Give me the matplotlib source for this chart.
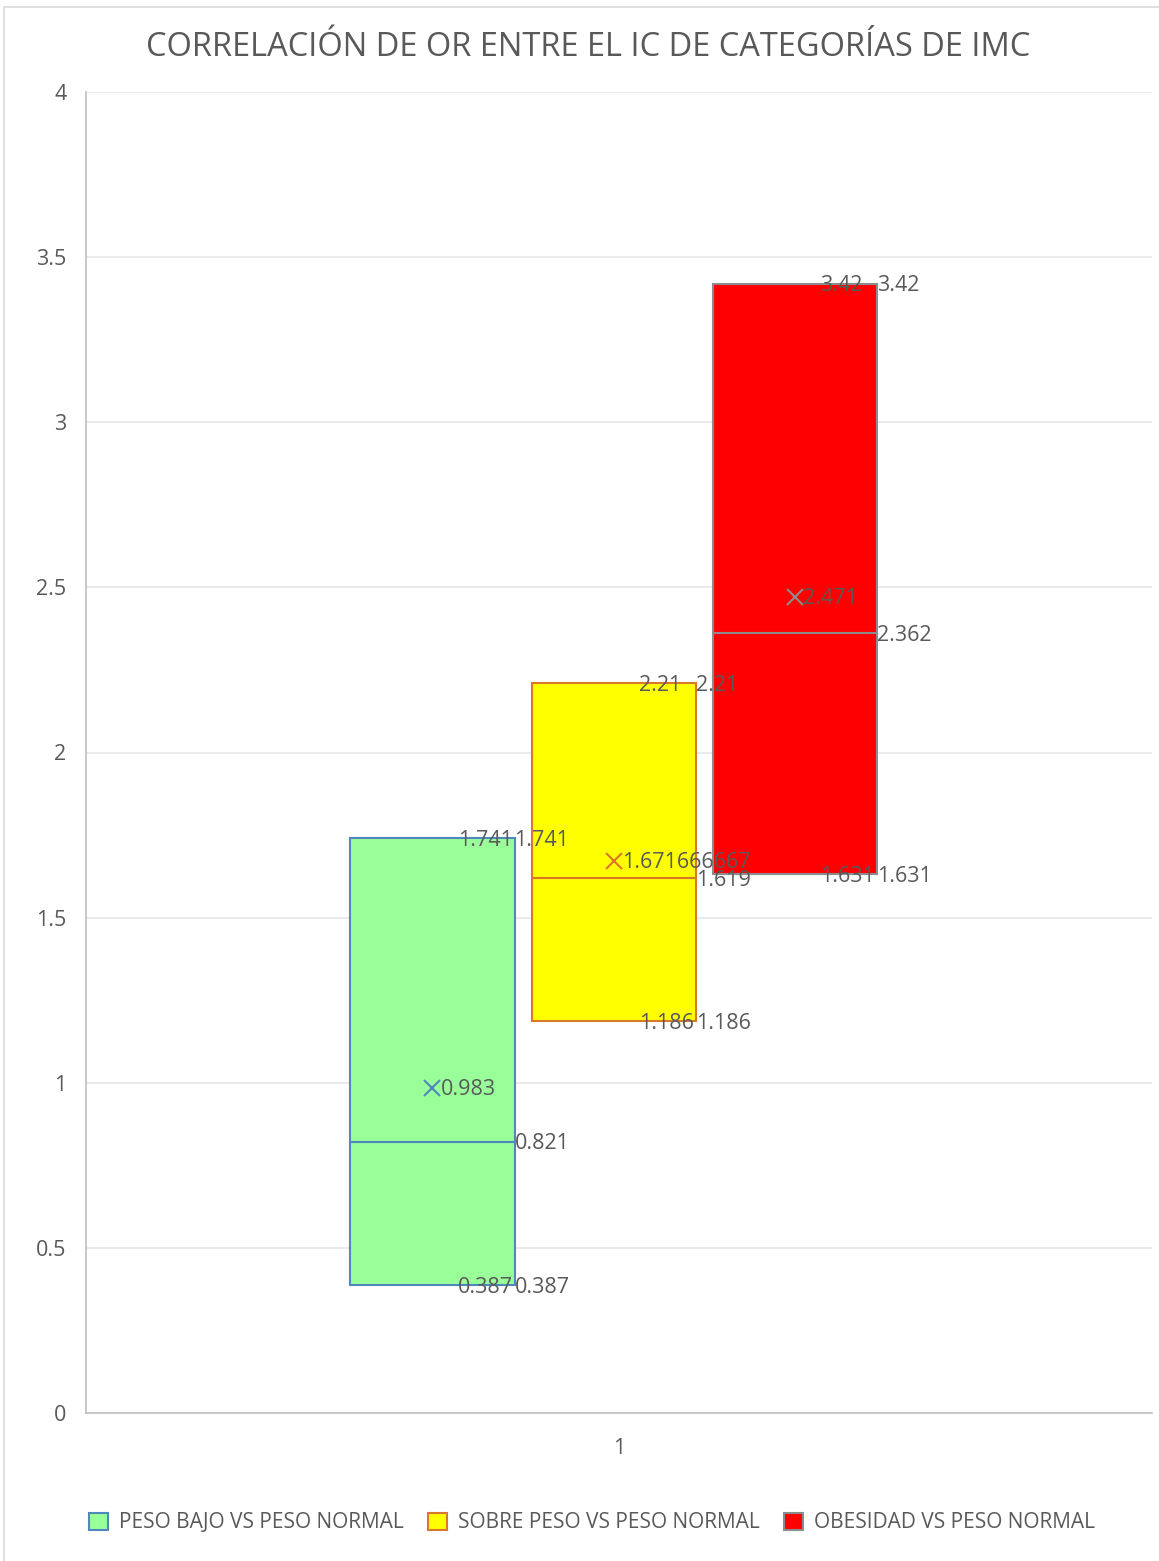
import matplotlib
matplotlib.use("Agg")
import matplotlib.pyplot as plt
from matplotlib.patches import Patch, Rectangle
from matplotlib.ticker import FuncFormatter, MultipleLocator

plt.rcParams['font.family'] = ['Open Sans', 'DejaVu Sans']

# Box statistics per BMI category (odds-ratio confidence intervals)
series = ["PESO BAJO VS PESO NORMAL", "SOBRE PESO VS PESO NORMAL", "OBESIDAD VS PESO NORMAL"]
mins = [0.387, 1.186, 1.631]
q1s = [0.387, 1.186, 1.631]
medians = [0.821, 1.619, 2.362]
means = [0.983, 1.671666667, 2.471]
q3s = [1.741, 2.21, 3.42]
maxs = [1.741, 2.21, 3.42]
mean_labels = ["0.983", "1.671666667", "2.471"]
x_category = ["1"]

fills = ["#99FF99", "#FFFF00", "#FF0000"]
edges = ["#4F88BE", "#D9772B", "#8C8C8C"]
text_color = "#595959"

fig = plt.figure(figsize=(11.59, 15.61), dpi=100)
ax = fig.add_axes([86 / 1159, 148 / 1561, 1066 / 1159, 1321 / 1561])

offsets = [-0.175, -0.005, 0.165]
width = 0.154

for i in range(3):
    stats = [dict(whislo=mins[i], q1=q1s[i], med=medians[i], q3=q3s[i],
                  whishi=maxs[i], mean=means[i], label=series[i])]
    pos = 1 + offsets[i]
    ax.bxp(stats, positions=[pos], widths=width, patch_artist=True,
           showmeans=True, showcaps=False, showfliers=False,
           boxprops=dict(facecolor=fills[i], edgecolor=edges[i], linewidth=1.5),
           medianprops=dict(color=edges[i], linewidth=1.5),
           whiskerprops=dict(color=edges[i], linewidth=1.5),
           meanprops=dict(marker="x", markeredgecolor=edges[i], markersize=12,
                          markeredgewidth=1.5),
           zorder=3)
    right = pos + width / 2
    lab = dict(color=text_color, fontsize=15.5, va="center", zorder=5,
               textcoords="offset points")
    # Q3 / max labels at the top edge
    ax.annotate(f"{q3s[i]:g}", xy=(right, q3s[i]), xytext=(-41, -1.5), ha="left", **lab)
    ax.annotate(f"{maxs[i]:g}", xy=(right, maxs[i]), xytext=(0, -1.5), ha="left", **lab)
    # Q1 / min labels at the bottom edge
    ax.annotate(f"{q1s[i]:g}", xy=(right, q1s[i]), xytext=(-41, -1.5), ha="left", **lab)
    ax.annotate(f"{mins[i]:g}", xy=(right, mins[i]), xytext=(0, -1.5), ha="left", **lab)
    # median and mean labels
    ax.annotate(f"{medians[i]:g}", xy=(right, medians[i]), xytext=(0, -1.5), ha="left", **lab)
    ax.annotate(mean_labels[i], xy=(pos, means[i]), xytext=(6, -1), ha="left", **lab)

ax.set_xlim(0.5, 1.5)
ax.set_ylim(0, 4)
ax.yaxis.set_major_locator(MultipleLocator(0.5))
ax.yaxis.set_major_formatter(FuncFormatter(lambda v, p: f"{v:g}"))
ax.set_xticks([1])
ax.set_xticklabels(x_category)
ax.tick_params(axis="both", length=0, labelsize=15.5, labelcolor=text_color)
ax.tick_params(axis="y", pad=14)
ax.tick_params(axis="x", pad=18)
ax.grid(axis="y", color="#E6E6E6", linewidth=1.2, zorder=0)
ax.set_axisbelow(True)
for s in ["top", "right"]:
    ax.spines[s].set_visible(False)
for s in ["left", "bottom"]:
    ax.spines[s].set_color("#BFBFBF")
    ax.spines[s].set_linewidth(1.2)

fig.text(588 / 1159, 1 - 48 / 1561, "CORRELACIÓN DE OR ENTRE EL IC DE CATEGORÍAS DE IMC",
         ha="center", va="center", fontsize=23.5, color=text_color)

handles = [Patch(facecolor=fills[i], edgecolor=edges[i], linewidth=1.5) for i in range(3)]
fig.legend(handles, series, loc="center", bbox_to_anchor=(592 / 1159, 38 / 1561),
           ncol=3, frameon=False, fontsize=15, labelcolor=text_color,
           handlelength=0.9, handleheight=0.9, handletextpad=0.5, columnspacing=1.2)

# Chart-area frame
fig.patches.append(Rectangle((4 / 1159, -0.01), 1.1, 1 - 7 / 1561 + 0.01,
                             transform=fig.transFigure, fill=False,
                             edgecolor="#D9D9D9", linewidth=1.2))

fig.savefig("out.png", dpi=100)
